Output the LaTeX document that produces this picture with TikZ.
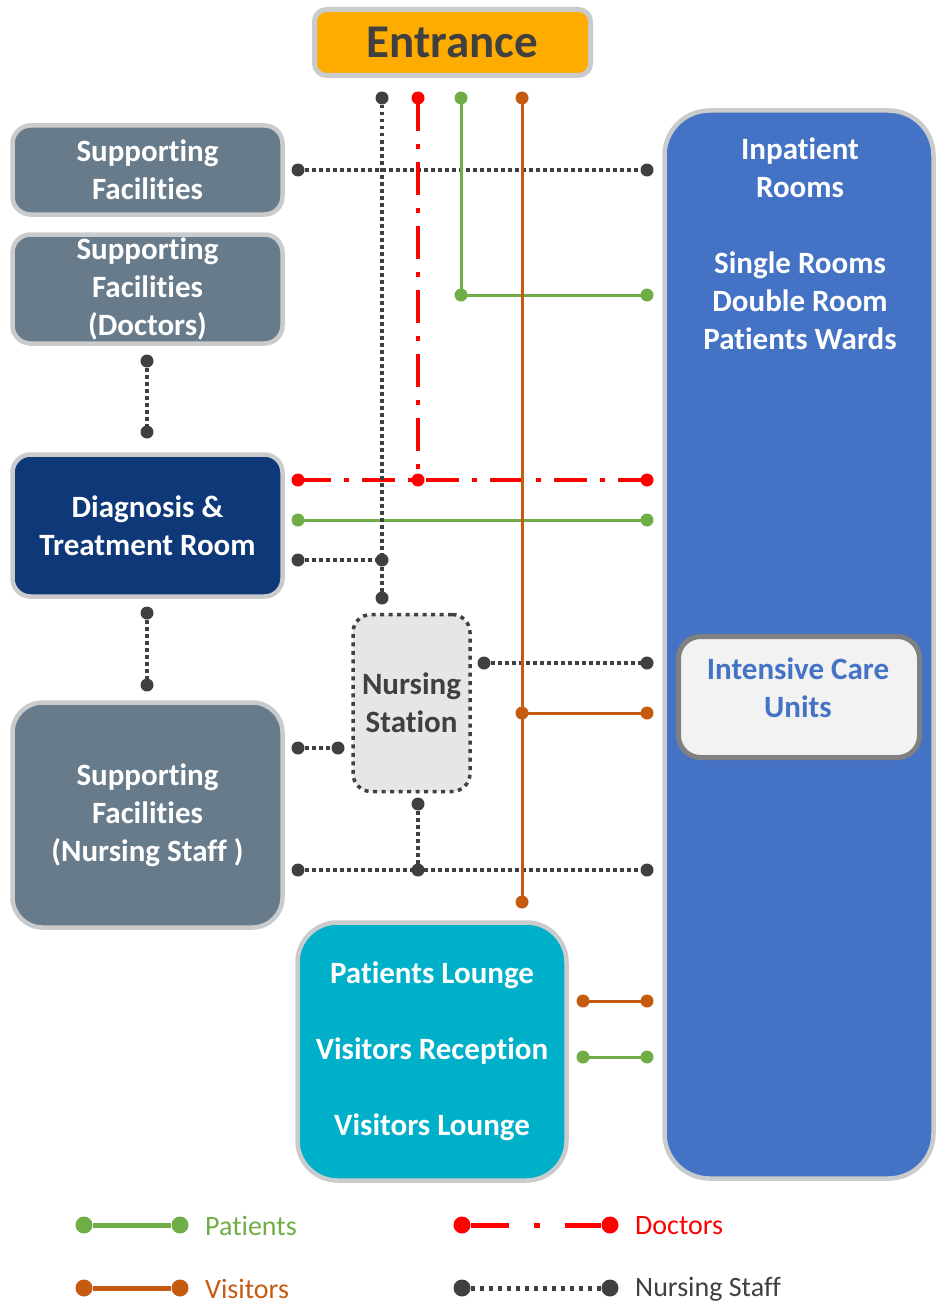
\documentclass[tikz,border=0pt]{standalone}
\usepackage{fontspec}
\setmainfont{Carlito}[Ligatures=NoCommon]
\definecolor{entr}{HTML}{FFAC00}
\definecolor{slate}{HTML}{687B8B}
\definecolor{navy}{HTML}{0F3878}
\definecolor{ward}{HTML}{4472C4}
\definecolor{lounge}{HTML}{00AFC8}
\definecolor{rim}{HTML}{C9CBCD}
\definecolor{ink}{HTML}{404040}
\definecolor{patg}{HTML}{70AD47}
\definecolor{visit}{HTML}{C55A11}
\definecolor{docr}{HTML}{FF0000}
\definecolor{icufill}{HTML}{F2F2F2}
\definecolor{icurim}{HTML}{808080}
\definecolor{nsfill}{HTML}{E6E6E6}
\begin{document}
\begin{tikzpicture}[x=1pt,y=-1pt,
  boxtxt/.style={font=\bfseries\fontsize{31}{38}\selectfont, align=center, inner sep=0pt},
  room/.style={boxtxt, draw=rim, line width=4.5pt, rounded corners=18pt, text=white, minimum width=270pt},
  pat/.style={draw=patg, line width=3pt},
  vis/.style={draw=visit, line width=3pt},
  doc/.style={draw=docr, line width=3.5pt, dash pattern=on 33pt off 13pt on 5pt off 13pt},
  nur/.style={draw=ink, line width=3.5pt, dash pattern=on 3.5pt off 3.5pt},
  ndot/.style={circle, inner sep=0pt, minimum size=13pt},
  ldot/.style={circle, inner sep=0pt, minimum size=17pt},
  legtxt/.style={anchor=west, inner sep=0pt, font=\fontsize{28}{34}\selectfont}
]
\useasboundingbox (0,0) rectangle (938,1303);

% ---------- rooms ----------
\node[room, fill=entr, text=ink, rounded corners=12pt, line width=5pt, minimum width=276pt, minimum height=66pt,
      font=\bfseries\fontsize{47}{56}\selectfont] (entrance) at (452.5,42.5) {Entrance};

\node[room, fill=slate, minimum height=89pt] (sf) at (147.5,170) {Supporting\\Facilities};
\node[room, fill=slate, minimum height=109pt] (sfdoc) at (147.5,289) {Supporting\\Facilities\\(Doctors)};
\node[room, fill=navy, minimum height=142pt] (diag) at (147.5,525.5) {Diagnosis \&\\Treatment Room};
\node[room, fill=slate, minimum height=225pt, rounded corners=30pt] (sfnur) at (147.5,815) {Supporting\\Facilities\\(Nursing Staff )};

\node[boxtxt, draw=ink, line width=3.5pt, dash pattern=on 4pt off 4.5pt, fill=nsfill, text=ink,
      rounded corners=18pt, minimum width=117pt, minimum height=177pt] (nstation) at (411.5,703) {Nursing\\Station};

\node[room, fill=lounge, rounded corners=40pt, minimum width=269pt, minimum height=258pt] (lounge) at (432,1051.5)
  {Patients Lounge\\[38pt]Visitors Reception\\[38pt]Visitors Lounge};

\node[room, fill=ward, rounded corners=45pt, minimum width=269pt, minimum height=1068pt] (inpatient) at (799,644.5) {};
\node[boxtxt, text=white] (inpatientTxt) at (800,244)
  {Inpatient\\Rooms\\[38pt]Single Rooms\\Double Room\\Patients Wards};

\node[draw=icurim, fill=icufill, line width=5pt, rounded corners=22pt, minimum width=241pt, minimum height=121pt] (icu) at (799,697) {};
\node[boxtxt, text=ward] (icuTxt) at (798,688) {Intensive Care\\Units};

% ---------- connector end points ----------
\coordinate (eN) at (382,98);  \coordinate (eD) at (418,98);
\coordinate (eP) at (461,98);  \coordinate (eV) at (522,98);
% nursing staff
\coordinate (nA) at (298,170); \coordinate (nB) at (647,170);
\coordinate (nC) at (147,361); \coordinate (nD) at (147,432);
\coordinate (nE) at (298,560); \coordinate (nF) at (382,560);
\coordinate (nG) at (382,598);
\coordinate (nH) at (147,613); \coordinate (nI) at (147,685);
\coordinate (nJ) at (484,663); \coordinate (nK) at (647,663);
\coordinate (nL) at (298,748); \coordinate (nM) at (338,748);
\coordinate (nN) at (418,804); \coordinate (nO) at (418,870);
\coordinate (nP) at (298,870); \coordinate (nQ) at (647,870);
% doctors
\coordinate (dA) at (298,480); \coordinate (dB) at (418,480); \coordinate (dC) at (647,480);
% patients
\coordinate (pA) at (461,295); \coordinate (pB) at (647,295);
\coordinate (pC) at (298,520); \coordinate (pD) at (647,520);
\coordinate (pE) at (583,1057); \coordinate (pF) at (647,1057);
% visitors
\coordinate (vA) at (522,713); \coordinate (vB) at (647,713);
\coordinate (vC) at (522,902);
\coordinate (vD) at (583,1001); \coordinate (vE) at (647,1001);

% ---------- routes ----------
\draw[nur] (nA) -- (nB);
\draw[doc] (dA) -- (dC);
\draw[pat] (pC) -- (pD);
\draw[nur] (nE) -- (nF);
\draw[nur] (nJ) -- (nK);
\draw[vis] (vA) -- (vB);
\draw[nur] (nP) -- (nQ);
\draw[nur] (nL) -- (nM);
\draw[nur] (nC) -- (nD);
\draw[nur] (nH) -- (nI);
\draw[nur] (nN) -- (nO);
\draw[vis] (vD) -- (vE);
\draw[pat] (pE) -- (pF);
\draw[pat] (eP) -- (pA) -- (pB);
\draw[doc] (eD) -- (dB);
\draw[vis] (eV) -- (vC);
\draw[nur] (eN) -- (nG);

% ---------- route end dots ----------
\foreach \c in {eN,nA,nB,nC,nD,nE,nF,nG,nH,nI,nJ,nK,nL,nM,nN,nO,nP,nQ}
  \node[ndot, fill=ink] (\c-dot) at (\c) {};
\foreach \c in {eD,dA,dB,dC}
  \node[ndot, fill=docr] (\c-dot) at (\c) {};
\foreach \c in {eP,pA,pB,pC,pD,pE,pF}
  \node[ndot, fill=patg] (\c-dot) at (\c) {};
\foreach \c in {eV,vA,vB,vC,vD,vE}
  \node[ndot, fill=visit] (\c-dot) at (\c) {};

% ---------- legend ----------
\node[ldot, fill=patg] (lgP1) at (84,1225) {};
\node[ldot, fill=patg] (lgP2) at (180,1225) {};
\draw[patg, line width=5pt] (lgP1) -- (lgP2);
\node[legtxt, text=patg] (lgPt) at (205,1226) {Patients};

\node[ldot, fill=docr] (lgD1) at (462,1225) {};
\node[ldot, fill=docr] (lgD2) at (610,1225) {};
\draw[docr, line width=5pt, dash pattern=on 38pt off 25pt on 6pt off 25pt] (lgD1) -- (lgD2);
\node[legtxt, text=docr] (lgDt) at (635,1226) {Doctors};

\node[ldot, fill=visit] (lgV1) at (84,1288) {};
\node[ldot, fill=visit] (lgV2) at (180,1288) {};
\draw[visit, line width=5pt] (lgV1) -- (lgV2);
\node[legtxt, text=visit] (lgVt) at (205,1289) {Visitors};

\node[ldot, fill=ink] (lgN1) at (462,1288) {};
\node[ldot, fill=ink] (lgN2) at (610,1288) {};
\draw[ink, line width=5pt, dash pattern=on 4pt off 5pt] (lgN1) -- (lgN2);
\node[legtxt, text=ink] (lgNt) at (635,1289) {Nursing Staff};
\end{tikzpicture}
\end{document}
